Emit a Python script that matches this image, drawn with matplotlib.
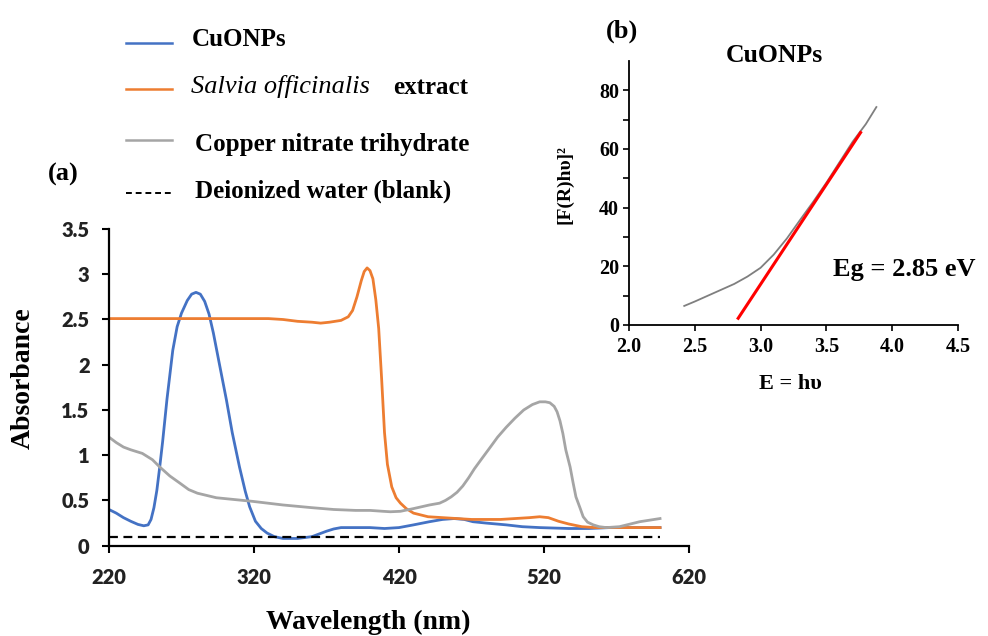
import matplotlib
matplotlib.use("Agg")
import matplotlib.pyplot as plt
from matplotlib.lines import Line2D

plt.rcParams['font.family'] = ['Liberation Serif', 'DejaVu Serif']

# ===== DATA (a): UV-vis spectra =====
cu_nm = [220, 225, 230, 235, 240, 244, 247, 249, 251, 253, 255, 257, 260, 264, 267, 270, 274,
         277, 280, 283, 286, 289, 292, 296, 301, 305, 310, 314, 317, 321, 325, 329, 334, 340,
         350, 360, 365, 370, 375, 380, 390, 400, 410, 420, 430, 441, 450, 458, 465, 471, 480,
         494, 505, 517, 537, 551, 565, 600]
cu_abs = [0.40, 0.36, 0.31, 0.27, 0.235, 0.22, 0.23, 0.29, 0.42, 0.61, 0.87, 1.15, 1.62, 2.16,
          2.42, 2.57, 2.71, 2.78, 2.80, 2.78, 2.70, 2.56, 2.35, 2.02, 1.61, 1.25, 0.87, 0.60,
          0.43, 0.27, 0.19, 0.14, 0.10, 0.08, 0.08, 0.10, 0.13, 0.16, 0.185, 0.20, 0.20, 0.20,
          0.19, 0.20, 0.23, 0.265, 0.29, 0.30, 0.29, 0.265, 0.25, 0.23, 0.21, 0.20, 0.19, 0.19,
          0.20, 0.20]

salvia_nm = [220, 240, 260, 280, 300, 320, 330, 340, 350, 360, 366, 372, 380, 385, 388, 391,
             394, 396, 398, 400, 402, 404, 406, 408, 410, 412, 415, 418, 421, 425, 430, 440,
             450, 460, 470, 480, 490, 500, 510, 517, 523, 530, 537, 546, 555, 570, 600]
salvia_abs = [2.51, 2.51, 2.51, 2.51, 2.51, 2.51, 2.51, 2.50, 2.48, 2.47, 2.46, 2.47, 2.49,
              2.53, 2.60, 2.75, 2.93, 3.03, 3.07, 3.04, 2.95, 2.72, 2.40, 1.85, 1.25, 0.90,
              0.65, 0.53, 0.47, 0.41, 0.36, 0.32, 0.31, 0.30, 0.29, 0.29, 0.29, 0.30, 0.31,
              0.32, 0.31, 0.27, 0.24, 0.21, 0.20, 0.20, 0.20]

nitrate_nm = [220, 225, 230, 235, 243, 250, 255, 262, 269, 275, 281, 294, 319, 340, 360, 375,
              390, 400, 409, 414, 421, 430, 441, 448, 452, 456, 460, 464, 468, 472, 477, 483,
              488, 494, 500, 506, 512, 517, 521, 524, 527, 529, 531, 533, 535, 538, 540, 542,
              545, 547, 550, 554, 558, 563, 572, 586, 600]
nitrate_abs = [1.20, 1.14, 1.09, 1.06, 1.02, 0.95, 0.87, 0.77, 0.69, 0.62, 0.58, 0.53, 0.49,
               0.45, 0.42, 0.40, 0.39, 0.39, 0.38, 0.375, 0.38, 0.41, 0.45, 0.47, 0.50, 0.54,
               0.59, 0.66, 0.75, 0.85, 0.96, 1.09, 1.20, 1.31, 1.41, 1.50, 1.56, 1.59, 1.59,
               1.58, 1.54, 1.48, 1.38, 1.24, 1.06, 0.87, 0.70, 0.54, 0.41, 0.32, 0.26, 0.23,
               0.21, 0.20, 0.21, 0.265, 0.30]

blank_nm = [220, 600]
blank_abs = [0.10, 0.10]

x_ticks = [220, 320, 420, 520, 620]
y_ticks = [0, 0.5, 1, 1.5, 2, 2.5, 3, 3.5]
y_tick_labels = ['0', '0.5', '1', '1.5', '2', '2.5', '3', '3.5']

# ===== DATA (b): Tauc plot =====
tauc_e = [2.42, 2.5, 2.6, 2.7, 2.8, 2.9, 3.0, 3.1, 3.2, 3.3, 3.4, 3.5, 3.6, 3.7, 3.8, 3.88]
tauc_f = [6.5, 8.0, 10.0, 12.0, 14.0, 16.5, 19.5, 24.0, 29.5, 35.8, 42.0, 48.5, 55.5, 62.5,
          68.5, 74.3]
fit_e = [2.83, 3.76]
fit_f = [2.3, 65.6]

blue = '#4472C4'
orange = '#ED7D31'
gray = '#A5A5A5'

fig = plt.figure(figsize=(9.88, 6.36), dpi=100)

# ----- panel (a) -----
ax = fig.add_axes([0.1103, 0.1420, 0.5871, 0.4979])
ax.plot(cu_nm, cu_abs, color=blue, lw=2.0)
ax.plot(salvia_nm, salvia_abs, color=orange, lw=2.0)
ax.plot(nitrate_nm, nitrate_abs, color=gray, lw=2.0)
ax.plot(blank_nm, blank_abs, color='black', lw=1.6, ls=(0, (4, 2.5)))
ax.set_xlim(220, 620)
ax.set_ylim(0, 3.5)
ax.set_xticks(x_ticks)
ax.set_yticks(y_ticks)
ax.set_yticklabels(y_tick_labels)
for s in ['top', 'right']:
    ax.spines[s].set_visible(False)
for s in ['left', 'bottom']:
    ax.spines[s].set_linewidth(1.6)
ax.tick_params(axis='both', direction='out', length=5, width=1.5)
ax.tick_params(axis='y', pad=9)
ax.tick_params(axis='x', pad=11)
for lab in ax.get_xticklabels() + ax.get_yticklabels():
    lab.set_family('Lato')
    lab.set_fontweight('heavy')
    lab.set_fontsize(14.5)
    lab.set_color('#222222')

fig.text(23 / 988, 1 - 378 / 636, 'Absorbance', rotation=90, ha='center', va='center',
         fontsize=20, fontweight='bold')
fig.text(368 / 988, 1 - 622 / 636, 'Wavelength (nm)', ha='center', va='center',
         fontsize=20, fontweight='bold')
fig.text(63 / 988, 1 - 174 / 636, '(a)', ha='center', va='center', fontsize=19,
         fontweight='bold')

# legend drawn by hand (mixed italic / bold label)
leg_rows = [
    (blue, '-', 43),
    (orange, '-', 89),
    (gray, '-', 140),
    ('black', (0, (3, 2)), 193),
]
for col, style, ly in leg_rows:
    fig.add_artist(Line2D([126 / 988, 172 / 988], [1 - ly / 636, 1 - ly / 636],
                          color=col, lw=1.8 if col != 'black' else 1.4, ls=style))
fig.text(192 / 988, 1 - 40 / 636, 'CuONPs', ha='left', va='center', fontsize=18,
         fontweight='bold')
fig.text(191 / 988, 1 - 86 / 636, 'Salvia officinalis', ha='left', va='center', fontsize=19,
         style='italic')
fig.text(393 / 988, 1 - 87 / 636, 'extract', ha='left', va='center', fontsize=18,
         fontweight='bold')
fig.text(195 / 988, 1 - 145 / 636, 'Copper nitrate trihydrate', ha='left', va='center',
         fontsize=18, fontweight='bold')
fig.text(195 / 988, 1 - 191 / 636, 'Deionized water (blank)', ha='left', va='center',
         fontsize=18, fontweight='bold')

# ----- panel (b) -----
ax2 = fig.add_axes([0.6366, 0.4890, 0.3330, 0.4151])
ax2.set_facecolor('none')
ax2.plot(tauc_e, tauc_f, color='#7F7F7F', lw=1.3)
ax2.plot(fit_e, fit_f, color='#FF0000', lw=2.2)
ax2.set_xlim(2.0, 4.5)
ax2.set_ylim(0, 90)
ax2.set_xticks([2.0, 2.5, 3.0, 3.5, 4.0, 4.5])
ax2.set_xticklabels(['2.0', '2.5', '3.0', '3.5', '4.0', '4.5'])
ax2.set_yticks([0, 20, 40, 60, 80])
ax2.set_yticks([10, 30, 50, 70], minor=True)
for s in ['top', 'right']:
    ax2.spines[s].set_visible(False)
for s in ['left', 'bottom']:
    ax2.spines[s].set_linewidth(1.3)
ax2.tick_params(axis='both', which='both', direction='out', length=4, width=1.2)
ax2.tick_params(axis='y', pad=3)
ax2.tick_params(axis='x', pad=5)
for lab in ax2.get_xticklabels() + ax2.get_yticklabels():
    lab.set_fontweight('bold')
    lab.set_fontsize(14.5)

ax2.text(3.55, 18.8, 'Eg = 2.85 eV', ha='left', va='center', fontsize=19,
         fontweight='bold')
fig.text(774 / 988, 1 - 56 / 636, 'CuONPs', ha='center', va='center', fontsize=18.5,
         fontweight='bold')
fig.text(622 / 988, 1 - 31 / 636, '(b)', ha='center', va='center', fontsize=19,
         fontweight='bold')
fig.text(565 / 988, 1 - 185 / 636, '[F(R)hυ]²', rotation=90, ha='center', va='center',
         fontsize=14, fontweight='bold')
fig.text(790 / 988, 1 - 384 / 636, 'E = hυ', ha='center', va='center', fontsize=16,
         fontweight='bold')

fig.savefig('out.png', dpi=100)
